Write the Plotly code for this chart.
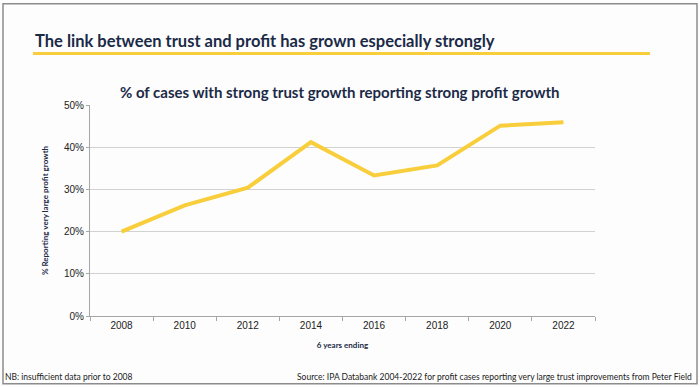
import plotly.graph_objects as go

years = ["2008", "2010", "2012", "2014", "2016", "2018", "2020", "2022"]
pct_values = [20.0, 26.2, 30.4, 41.2, 33.3, 35.7, 45.1, 45.9]
y_ticks = [0, 10, 20, 30, 40, 50]
y_tick_labels = ["0%", "10%", "20%", "30%", "40%", "50%"]

NAVY = "#1b2a47"
YELLOW = "#F8CE3C"

fig = go.Figure()
fig.add_trace(go.Scatter(
    x=years, y=pct_values, mode="lines",
    line=dict(color=YELLOW, width=4),
    hoverinfo="x+y", showlegend=False,
))

fig.update_layout(
    width=700, height=387,
    margin=dict(l=90, r=105, t=104.5, b=71),
    paper_bgcolor="#fdfdfd", plot_bgcolor="#fdfdfd",
    font=dict(family="Liberation Sans, Arial", color="#222222", size=10),
    xaxis=dict(
        type="category", tickson="boundaries",
        ticks="outside", ticklen=4, tickcolor="#a6a6a6",
        showline=True, linecolor="#a6a6a6", linewidth=1,
        showgrid=False, tickfont=dict(size=10, color="#222222"),
        title=dict(text="<b>6 years ending</b>",
                   font=dict(family="Lato, Open Sans", size=8, color=NAVY),
                   standoff=12),
        range=[-0.5, 7.5],
    ),
    yaxis=dict(
        range=[0, 50], tickvals=y_ticks, ticktext=y_tick_labels,
        ticks="outside", ticklen=3, tickcolor="#a6a6a6",
        showline=True, linecolor="#a6a6a6", linewidth=1,
        showgrid=True, gridcolor="#d2d2d2", gridwidth=1,
        zeroline=False, tickfont=dict(size=10, color="#222222"),
        title=dict(text="<b>% Reporting very large profit growth</b>",
                   font=dict(family="Lato, Open Sans", size=8, color=NAVY),
                   standoff=14),
    ),
    shapes=[
        dict(type="line", xref="paper", yref="paper",
             x0=-57/505, x1=560/505, y0=(316-53)/211.5, y1=(316-53)/211.5,
             line=dict(color=YELLOW, width=3)),
    ],
    annotations=[
        dict(text="<b>The link between trust and profit has grown especially strongly</b>",
             xref="paper", yref="paper", x=-57/505, y=(316-40)/211.5,
             xanchor="left", yanchor="middle", showarrow=False,
             font=dict(family="Lato, Open Sans", size=16.5, color=NAVY)),
        dict(text="<b>% of cases with strong trust growth reporting strong profit growth</b>",
             xref="paper", yref="paper", x=(340-90)/505, y=(316-91)/211.5,
             xanchor="center", yanchor="middle", showarrow=False,
             font=dict(family="Lato, Open Sans", size=15, color=NAVY)),
        dict(text="NB: insufficient data prior to 2008",
             xref="paper", yref="paper", x=-87/505, y=(316-377)/211.5,
             xanchor="left", yanchor="middle", showarrow=False,
             font=dict(family="Lato, Open Sans", size=8.5, color="#222222")),
        dict(text="Source: IPA Databank 2004-2022 for profit cases reporting very large trust improvements from Peter Field",
             xref="paper", yref="paper", x=(694-90)/505, y=(316-377)/211.5,
             xanchor="right", yanchor="middle", showarrow=False,
             font=dict(family="Lato, Open Sans", size=8.5, color="#222222")),
    ],
)

# page border
fig.add_shape(type="rect", xref="paper", yref="paper",
              x0=-87/505, x1=607/505, y0=(316-384)/211.5, y1=(316-3)/211.5,
              line=dict(color="#8c8c8c", width=1.5), layer="below")

fig.write_html("out.html", config={"displayModeBar": False},
               post_script="document.body.style.margin='0';document.body.style.padding='0';")
